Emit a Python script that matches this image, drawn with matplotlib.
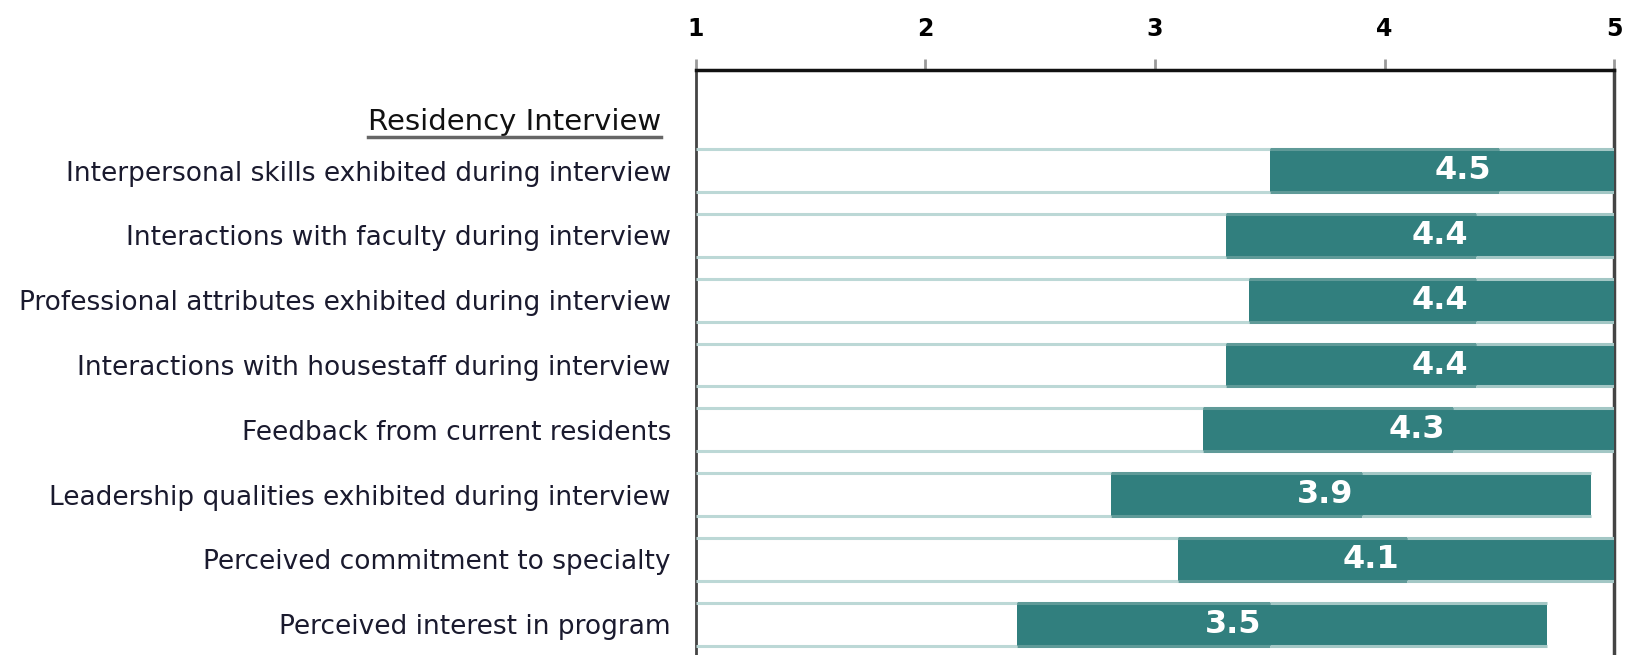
import matplotlib.pyplot as plt
from matplotlib.lines import Line2D

plt.rcParams['font.family'] = ['DejaVu Sans']

header = 'Residency Interview'
labels = [
    'Interpersonal skills exhibited during interview',
    'Interactions with faculty during interview',
    'Professional attributes exhibited during interview',
    'Interactions with housestaff during interview',
    'Feedback from current residents',
    'Leadership qualities exhibited during interview',
    'Perceived commitment to specialty',
    'Perceived interest in program',
]
means = [4.5, 4.4, 4.4, 4.4, 4.3, 3.9, 4.1, 3.5]
lows = [3.5, 3.31, 3.41, 3.31, 3.21, 2.81, 3.10, 2.40]
highs = [5.0, 5.0, 5.0, 5.0, 5.0, 4.9, 5.0, 4.71]
ticks = [1, 2, 3, 4, 5]

teal = '#317f7e'
edge_light = '#bcd8d6'
edge_mid = '#5f9a98'
edge_right = '#a3c7c5'

fig = plt.figure(figsize=(16.31, 6.55), dpi=100)
ax = fig.add_axes([0.4267, 0.0, 0.5629, 0.8936])

ys = list(range(len(labels)))
h = 0.66
for y, lo, m, hi in zip(ys, lows, means, highs):
    ax.barh(y, lo - 1, left=1, height=h, color='white', linewidth=0, zorder=2)
    ax.barh(y, hi - lo, left=lo, height=h, color=teal, linewidth=0, zorder=3)
    for yy in (y - h / 2, y + h / 2):
        ax.hlines(yy, 1, lo, color=edge_light, linewidth=2.2, zorder=4)
        ax.hlines(yy, lo, m, color=edge_mid, linewidth=2.2, zorder=4)
        ax.hlines(yy, m, hi, color=edge_right, linewidth=2.2, zorder=4)
    ax.annotate(f'{m:.1f}', (m, y), xytext=(-6, 0), textcoords='offset points',
                ha='right', va='center', color='white', fontsize=23,
                fontweight='bold', zorder=5)

ax.set_xlim(1, 5)
ax.set_ylim(7.475, -1.557)
ax.xaxis.tick_top()
ax.set_xticks(ticks)
ax.set_xticklabels([str(t) for t in ticks], fontsize=17, fontweight='bold')
ax.tick_params(axis='x', length=8, width=2, color='#999999', pad=13)
ax.set_yticks(ys)
ax.set_yticklabels(labels, fontsize=19, color='#1a1a2e')
ax.tick_params(axis='y', length=0, pad=18)

ax.spines['top'].set_linewidth(2.5)
ax.spines['top'].set_color('#111111')
ax.spines['left'].set_linewidth(2)
ax.spines['left'].set_color('#444444')
ax.spines['right'].set_linewidth(2.5)
ax.spines['right'].set_color('#444444')
ax.spines['bottom'].set_visible(False)

t = ax.text(-0.038, -0.755, header, transform=ax.get_yaxis_transform(),
            ha='right', va='center', fontsize=21, color='#111111')

fig.canvas.draw()
bb = t.get_window_extent().transformed(fig.transFigure.inverted())
fig.add_artist(Line2D([bb.x0, bb.x1], [bb.y0 - 0.002, bb.y0 - 0.002],
                      transform=fig.transFigure, color='#666666', linewidth=2.5))

fig.savefig('out.png', dpi=100)
